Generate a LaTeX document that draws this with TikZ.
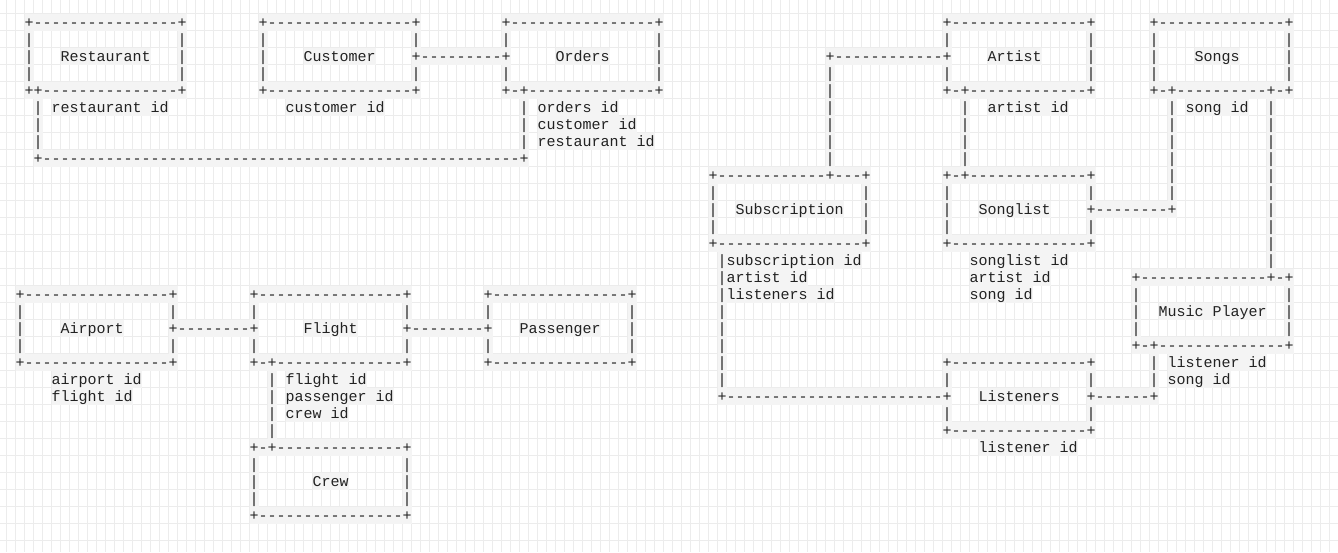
\documentclass[tikz,border=0pt]{standalone}
\usepackage{fontspec}
\setmonofont{Liberation Mono}
\ExplSyntaxOn
\cs_new:Npn \rd #1 { \prg_replicate:nn {#1} {-} }
\ExplSyntaxOff
\definecolor{gridc}{RGB}{236,236,236}
\definecolor{bandc}{RGB}{244,244,244}
\definecolor{inkc}{RGB}{34,34,34}
\tikzset{
  cell/.style={anchor=base west, inner sep=0pt, outer sep=0pt,
    text height=13.7pt, text depth=3.3pt, fill=bandc, text=inkc,
    font=\ttfamily\fontsize{15}{17}\selectfont},
  gridline/.style={draw=gridc, line width=1pt}
}
\newcommand\ch[3]{\node[cell] (n-#1-#2) at ({15.7+9*#1},{27.5+17*#2}) {#3};}
\begin{document}
\begin{tikzpicture}[x=1pt,y=-1pt]
\useasboundingbox (0,0) rectangle (1338,552);
\fill[white] (0,0) rectangle (1338,552);
\foreach \k in {0,...,148} {\draw[gridline] ({6.7+9*\k},0) -- ({6.7+9*\k},552);}
\foreach \k in {-1,...,32} {\draw[gridline] (0,{13.3+17*\k}) -- (1338,{13.3+17*\k});}
% row 0
\ch{1}{0}{+\rd{16}+}\ch{27}{0}{+\rd{16}+}\ch{54}{0}{+\rd{16}+}\ch{103}{0}{+\rd{15}+}\ch{126}{0}{+\rd{14}+}
% row 1
\ch{1}{1}{|}\ch{18}{1}{|}\ch{27}{1}{|}\ch{44}{1}{|}\ch{54}{1}{|}\ch{71}{1}{|}\ch{103}{1}{|}\ch{119}{1}{|}\ch{126}{1}{|}\ch{141}{1}{|}
% row 2
\ch{1}{2}{|}\ch{5}{2}{Restaurant}\ch{18}{2}{|}\ch{27}{2}{|}\ch{32}{2}{Customer}\ch{44}{2}{+\rd{9}+}\ch{60}{2}{Orders}\ch{71}{2}{|}
\ch{90}{2}{+\rd{12}+}\ch{108}{2}{Artist}\ch{119}{2}{|}\ch{126}{2}{|}\ch{131}{2}{Songs}\ch{141}{2}{|}
% row 3
\ch{1}{3}{|}\ch{18}{3}{|}\ch{27}{3}{|}\ch{44}{3}{|}\ch{54}{3}{|}\ch{71}{3}{|}\ch{90}{3}{|}\ch{103}{3}{|}\ch{119}{3}{|}\ch{126}{3}{|}\ch{141}{3}{|}
% row 4
\ch{1}{4}{++\rd{15}+}\ch{27}{4}{+\rd{16}+}\ch{54}{4}{+-+\rd{14}+}\ch{90}{4}{|}\ch{103}{4}{+-+\rd{13}+}\ch{126}{4}{+-+\rd{10}+-+}
% row 5
\ch{2}{5}{|}\ch{4}{5}{restaurant id}\ch{30}{5}{customer id}\ch{56}{5}{|}\ch{58}{5}{orders id}\ch{90}{5}{|}\ch{105}{5}{|}\ch{108}{5}{artist id}\ch{128}{5}{|}\ch{130}{5}{song id}\ch{139}{5}{|}
% row 6
\ch{2}{6}{|}\ch{56}{6}{|}\ch{58}{6}{customer id}\ch{90}{6}{|}\ch{105}{6}{|}\ch{128}{6}{|}\ch{139}{6}{|}
% row 7
\ch{2}{7}{|}\ch{56}{7}{|}\ch{58}{7}{restaurant id}\ch{90}{7}{|}\ch{105}{7}{|}\ch{128}{7}{|}\ch{139}{7}{|}
% row 8
\ch{2}{8}{+\rd{53}+}\ch{90}{8}{|}\ch{105}{8}{|}\ch{128}{8}{|}\ch{139}{8}{|}
% row 9
\ch{77}{9}{+\rd{12}+\rd{3}+}\ch{103}{9}{+-+\rd{13}+}\ch{128}{9}{|}\ch{139}{9}{|}
% row 10
\ch{77}{10}{|}\ch{94}{10}{|}\ch{103}{10}{|}\ch{119}{10}{|}\ch{128}{10}{|}\ch{139}{10}{|}
% row 11
\ch{77}{11}{|}\ch{80}{11}{Subscription}\ch{94}{11}{|}\ch{103}{11}{|}\ch{107}{11}{Songlist}\ch{119}{11}{+\rd{8}+}\ch{139}{11}{|}
% row 12
\ch{77}{12}{|}\ch{94}{12}{|}\ch{103}{12}{|}\ch{119}{12}{|}\ch{139}{12}{|}
% row 13
\ch{77}{13}{+\rd{16}+}\ch{103}{13}{+\rd{15}+}\ch{139}{13}{|}
% row 14
\ch{78}{14}{|subscription id}\ch{106}{14}{songlist id}\ch{139}{14}{|}
% row 15
\ch{78}{15}{|artist id}\ch{106}{15}{artist id}\ch{124}{15}{+\rd{14}+-+}
% row 16
\ch{0}{16}{+\rd{16}+}\ch{26}{16}{+\rd{16}+}\ch{52}{16}{+\rd{15}+}\ch{78}{16}{|listeners id}\ch{106}{16}{song id}\ch{124}{16}{|}\ch{141}{16}{|}
% row 17
\ch{0}{17}{|}\ch{17}{17}{|}\ch{26}{17}{|}\ch{43}{17}{|}\ch{52}{17}{|}\ch{68}{17}{|}\ch{78}{17}{|}\ch{124}{17}{|}\ch{127}{17}{Music Player}\ch{141}{17}{|}
% row 18
\ch{0}{18}{|}\ch{5}{18}{Airport}\ch{17}{18}{+\rd{8}+}\ch{32}{18}{Flight}\ch{43}{18}{+\rd{8}+}\ch{56}{18}{Passenger}\ch{68}{18}{|}\ch{78}{18}{|}\ch{124}{18}{|}\ch{141}{18}{|}
% row 19
\ch{0}{19}{|}\ch{17}{19}{|}\ch{26}{19}{|}\ch{43}{19}{|}\ch{52}{19}{|}\ch{68}{19}{|}\ch{78}{19}{|}\ch{124}{19}{+-+\rd{14}+}
% row 20
\ch{0}{20}{+\rd{16}+}\ch{26}{20}{+-+\rd{14}+}\ch{52}{20}{+\rd{15}+}\ch{78}{20}{|}\ch{103}{20}{+\rd{15}+}\ch{126}{20}{|}\ch{128}{20}{listener id}
% row 21
\ch{4}{21}{airport id}\ch{28}{21}{|}\ch{30}{21}{flight id}\ch{78}{21}{|}\ch{103}{21}{|}\ch{119}{21}{|}\ch{126}{21}{|}\ch{128}{21}{song id}
% row 22
\ch{4}{22}{flight id}\ch{28}{22}{|}\ch{30}{22}{passenger id}\ch{78}{22}{+\rd{24}+}\ch{107}{22}{Listeners}\ch{119}{22}{+\rd{6}+}
% row 23
\ch{28}{23}{|}\ch{30}{23}{crew id}\ch{103}{23}{|}\ch{119}{23}{|}
% row 24
\ch{28}{24}{|}\ch{103}{24}{+\rd{15}+}
% row 25
\ch{26}{25}{+-+\rd{14}+}\ch{107}{25}{listener id}
% rows 26-29
\ch{26}{26}{|}\ch{43}{26}{|}
\ch{26}{27}{|}\ch{33}{27}{Crew}\ch{43}{27}{|}
\ch{26}{28}{|}\ch{43}{28}{|}
\ch{26}{29}{+\rd{16}+}
\end{tikzpicture}
\end{document}
